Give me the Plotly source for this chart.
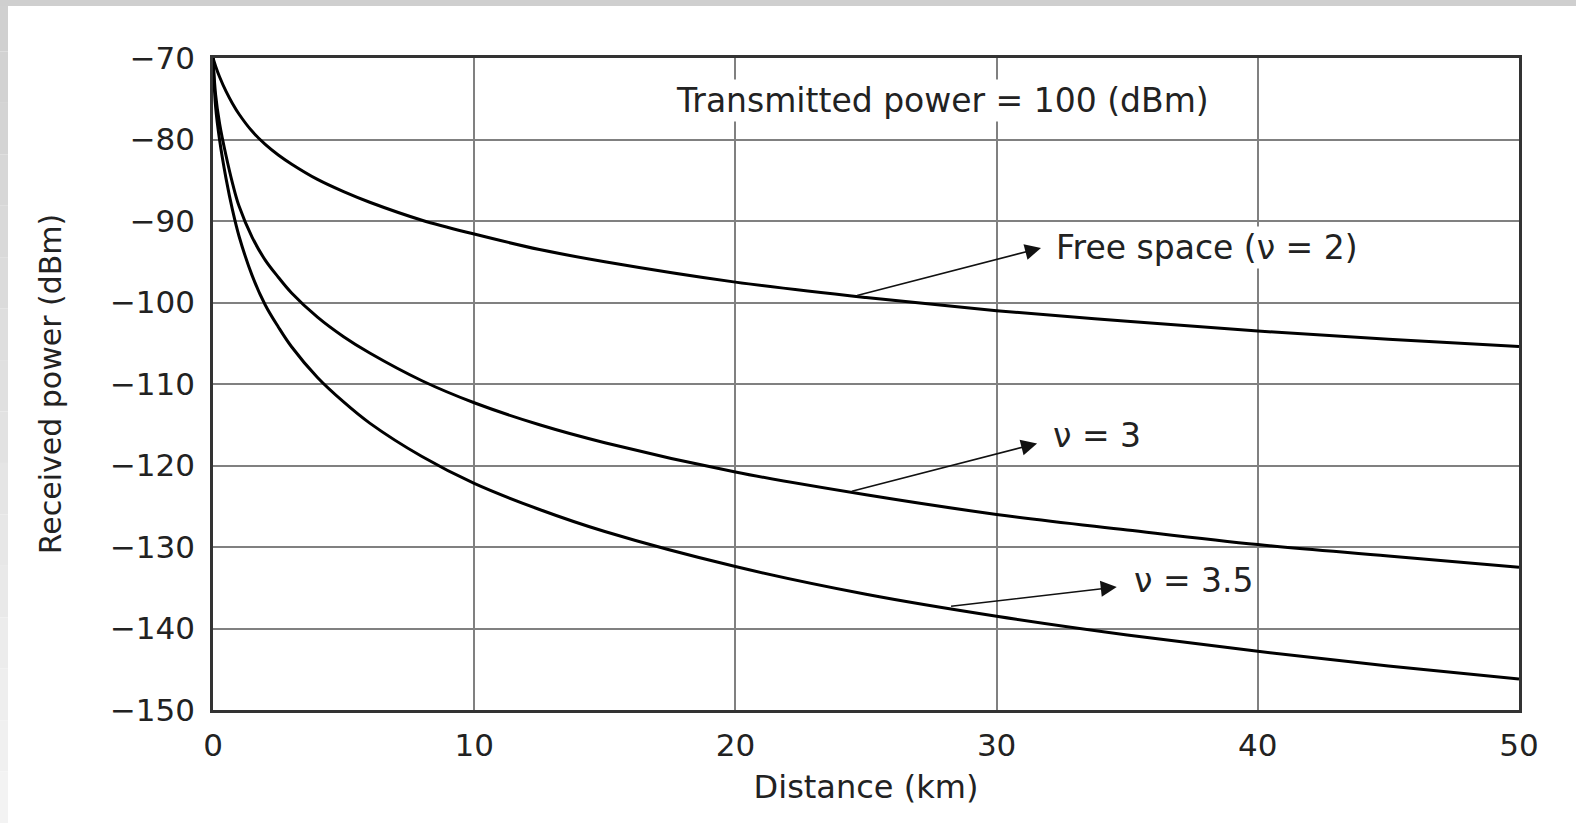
import plotly.graph_objects as go

# ---- data ----
distance_km = [0, 0.1, 0.25, 0.5, 0.75, 1, 1.5, 2, 2.5, 3, 4, 5, 6, 8, 10, 12.5, 15, 20, 25, 30, 35, 40, 45, 50]
free_space_v2 = [-70, -71.0, -72.3, -74.1, -75.6, -76.9, -79.0, -80.6, -81.9, -83.0, -84.9, -86.4, -87.7, -89.9,
                 -91.6, -93.5, -95.0, -97.5, -99.4, -101.0, -102.3, -103.5, -104.5, -105.4]
pathloss_v3 = [-70, -74.5, -78.0, -82.0, -85.4, -88.2, -92.0, -94.8, -96.9, -98.8, -101.8, -104.2, -106.2, -109.6,
               -112.3, -115.0, -117.2, -120.8, -123.6, -126.0, -127.9, -129.7, -131.1, -132.5]
pathloss_v35 = [-70, -76.0, -80.0, -84.8, -88.7, -91.9, -96.7, -100.3, -103.0, -105.4, -109.2, -112.2, -114.8, -118.9,
                -122.2, -125.4, -128.1, -132.4, -135.8, -138.5, -140.8, -142.8, -144.6, -146.2]

x_ticks = [0, 10, 20, 30, 40, 50]
y_ticks = [-70, -80, -90, -100, -110, -120, -130, -140, -150]

title_text = "Transmitted power = 100 (dBm)"
labels = ["Free space (\u03bd = 2)", "\u03bd = 3", "\u03bd = 3.5"]
# arrow tail (on curve) and head (near label), in data units
arrow_tails = [(24.6, -99.2), (24.4, -123.2), (28.2, -137.3)]
arrow_heads = [(31.7, -93.3), (31.55, -117.3), (34.6, -134.9)]
label_pos = [(32.2, -93.3), (32.1, -116.3), (35.2, -134.1)]

FONT = "DejaVu Sans"
TXT = "#222222"

fig = go.Figure()
for ys in (free_space_v2, pathloss_v3, pathloss_v35):
    fig.add_trace(go.Scatter(x=distance_km, y=ys, mode="lines",
                             line=dict(color="black", width=3, shape="spline", smoothing=1.0),
                             showlegend=False, hoverinfo="skip"))

W, H = 1576, 823
ml, mr, mt, mb = 213, 57, 58, 113
pw, ph = W - ml - mr, H - mt - mb

fig.update_layout(
    width=W, height=H,
    margin=dict(l=ml, r=mr, t=mt, b=mb, pad=0),
    paper_bgcolor="white", plot_bgcolor="white",
    font=dict(family=FONT, color=TXT, size=30),
    showlegend=False,
)
fig.update_xaxes(range=[0, 50], tickvals=x_ticks, ticks="", ticklabelstandoff=6,
                 showgrid=True, gridcolor="#808080", gridwidth=2,
                 showline=True, linecolor="#333333", linewidth=2.5, mirror=True, zeroline=False,
                 tickfont=dict(size=31, family=FONT, color=TXT),
                 title=dict(text="Distance (km)", font=dict(size=32, family=FONT, color=TXT), standoff=14))
fig.update_yaxes(range=[-150, -70], tickvals=y_ticks, ticks="", ticklabelstandoff=9,
                 showgrid=True, gridcolor="#808080", gridwidth=2,
                 showline=True, linecolor="#333333", linewidth=2.5, mirror=True, zeroline=False,
                 tickfont=dict(size=31, family=FONT, color=TXT),
                 title=dict(text="Received power (dBm)", font=dict(size=30, family=FONT, color=TXT), standoff=40))

# title text inside plot
fig.add_annotation(x=27.94, y=-75.2, xref="x", yref="y", text=title_text, showarrow=False,
                   font=dict(size=33, family=FONT, color=TXT), bgcolor="white", xanchor="center", yanchor="middle")

for (tx, ty), (hx, hy), (lx, ly), lab in zip(arrow_tails, arrow_heads, label_pos, labels):
    fig.add_annotation(x=hx, y=hy, ax=tx, ay=ty, xref="x", yref="y", axref="x", ayref="y",
                       text="", showarrow=True, arrowhead=2, arrowsize=2.0, arrowwidth=1.6, arrowcolor="#111111")
    fig.add_annotation(x=lx, y=ly, xref="x", yref="y", text=lab, showarrow=False,
                       font=dict(size=33, family=FONT, color=TXT), bgcolor="white",
                       xanchor="left", yanchor="middle")

# light gray frame at top and left edges of the picture
def px2paper_x(px):
    return (px - ml) / pw

def px2paper_y(py):
    return 1 - (py - mt) / ph

fig.add_shape(type="rect", xref="paper", yref="paper", x0=px2paper_x(0), x1=px2paper_x(W),
              y0=px2paper_y(6), y1=px2paper_y(0), fillcolor="#cfcfcf", line_width=0, layer="below")
n_seg = 16
seg = H / n_seg
for i in range(n_seg):
    g = int(0xd0 + (0xf3 - 0xd0) * i / (n_seg - 1))
    c = "#%02x%02x%02x" % (g, g, g)
    fig.add_shape(type="rect", xref="paper", yref="paper", x0=px2paper_x(0), x1=px2paper_x(8),
                  y0=px2paper_y(min(H, (i + 1) * seg)), y1=px2paper_y(max(6, i * seg)),
                  fillcolor=c, line_width=0, layer="below")

fig.write_html("out.html")
